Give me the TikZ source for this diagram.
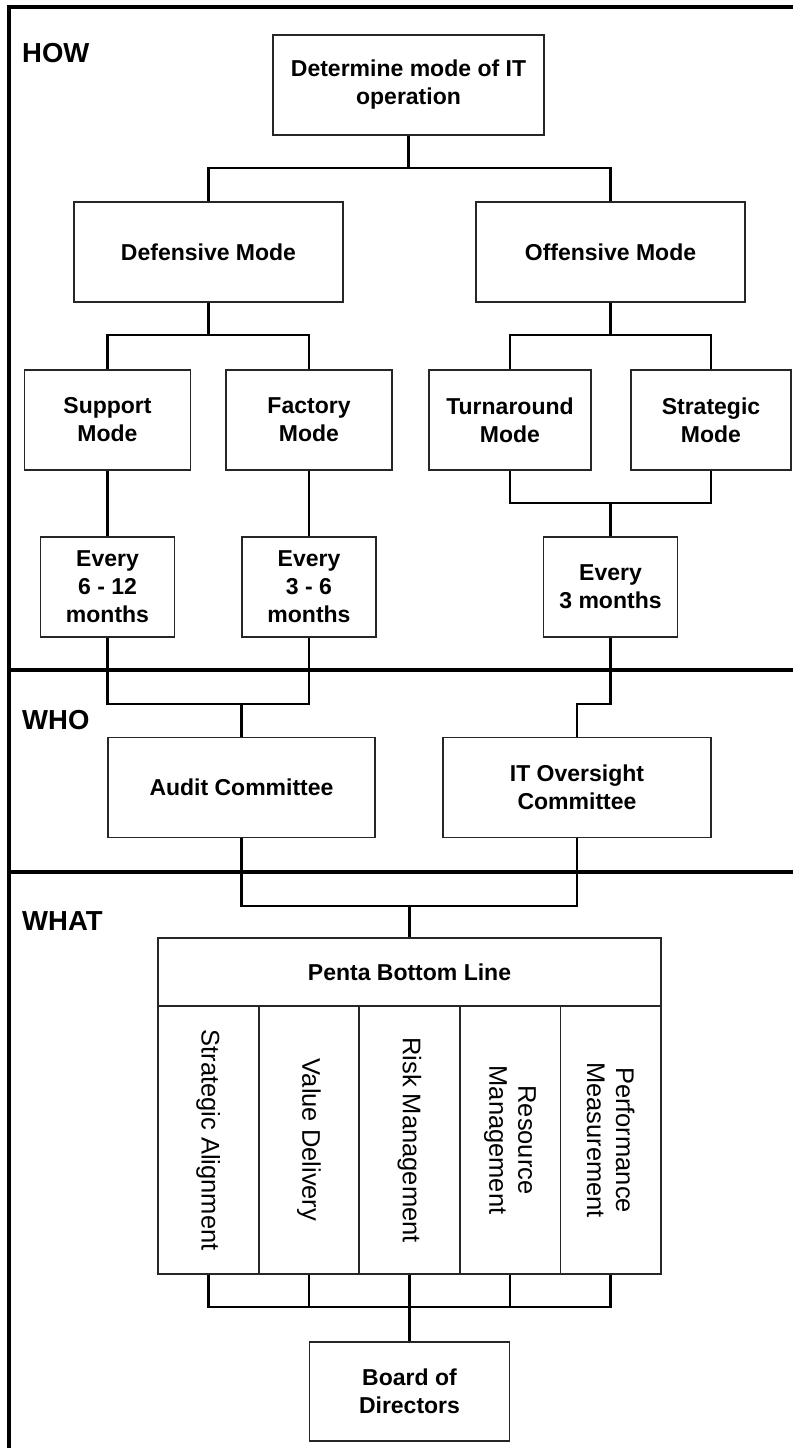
\documentclass[tikz,border=0pt]{standalone}
\usepackage{fontspec}
\setmainfont{Liberation Sans}

\begin{document}
\begin{tikzpicture}[x=1pt,y=-1pt,
    box/.style={draw=black!85,line width=1.8pt,minimum height=100pt,inner sep=2pt,align=center,font=\bfseries\fontsize{23}{28}\selectfont},
    colbox/.style={draw=black!85,line width=1.8pt,minimum width=268pt,minimum height=100.6pt,inner sep=2pt,align=center,rotate=-90,font=\fontsize{25.5}{29}\selectfont},
    link/.style={line width=2.6pt},
    band/.style={line width=3.5pt},
    tag/.style={anchor=base west,inner sep=0pt,font=\bfseries\fontsize{27.5}{30}\selectfont}]
\useasboundingbox (0,0) rectangle (793,1448);
\draw[line width=4pt] (9,1448) -- (9,7) -- (793,7);
\draw[band] (9,670) -- (793,670);
\draw[band] (9,872) -- (793,872);
\node[tag] (how) at (22,62) {HOW};
\node[tag] (who) at (22,729) {WHO};
\node[tag] (what) at (22,930) {WHAT};

\node[box,minimum width=271pt] (det) at (408.5,85) {Determine mode of IT\\operation};
\node[box,minimum width=269pt] (def) at (208.5,252) {Defensive Mode};
\node[box,minimum width=269pt] (off) at (610.5,252) {Offensive Mode};
\node[box,minimum width=166pt] (sup) at (107.5,420) {Support\\Mode};
\node[box,minimum width=166pt] (fac) at (309,420) {Factory\\Mode};
\node[box,minimum width=162pt] (tur) at (510,420) {Turnaround\\Mode};
\node[box,minimum width=160pt] (stg) at (711,420) {Strategic\\Mode};
\node[box,minimum width=134pt] (ev1) at (107.5,587) {Every\\6 - 12\\months};
\node[box,minimum width=134pt] (ev2) at (309,587) {Every\\3 - 6\\months};
\node[box,minimum width=134pt] (ev3) at (610.5,587) {Every\\3 months};
\node[box,minimum width=267pt] (aud) at (241.5,787.5) {Audit Committee};
\node[box,minimum width=268pt] (it) at (577,787.5) {IT Oversight\\Committee};
\node[box,minimum width=503pt,minimum height=68pt] (pbl) at (409.5,972) {Penta Bottom Line};
\node[colbox] (c1) at (208.3,1140) {Strategic Alignment};
\node[colbox] (c2) at (308.9,1140) {Value Delivery};
\node[colbox] (c3) at (409.5,1140) {Risk Management};
\node[colbox] (c4) at (510.1,1140) {Resource\\Management};
\node[colbox] (c5) at (610.7,1140) {Performance\\Measurement};
\node[box,minimum width=200pt,minimum height=99pt] (brd) at (409.5,1391.5) {Board of\\Directors};

\coordinate (t0) at (408.5,168);
\draw[link] (det.south) -- (t0);
\draw[link] (def.north) |- (t0) -| (off.north);
\coordinate (d0) at (208.5,335);
\draw[link] (def.south) -- (d0);
\draw[link] (sup.north) |- (d0) -| (fac.north);
\coordinate (o0) at (610.5,335);
\draw[link] (off.south) -- (o0);
\draw[link] (tur.north) |- (o0) -| (stg.north);
\draw[link] (sup.south) -- (ev1.north);
\draw[link] (fac.south) -- (ev2.north);
\coordinate (o1) at (610.5,503);
\draw[link] (tur.south) |- (o1) -| (stg.south);
\draw[link] (o1) -- (ev3.north);
\coordinate (w1) at (241.5,704);
\draw[link] (ev1.south) |- (w1) -| (ev2.south);
\draw[link] (w1) -- (aud.north);
\coordinate (w2) at (577,704);
\draw[link] (ev3.south) |- (w2) -- (it.north);
\coordinate (p0) at (409.5,906);
\draw[link] (aud.south) |- (p0) -| (it.south);
\draw[link] (p0) -- (pbl.north);
\coordinate (b0) at (409.5,1307);
\draw[link] (c1.east) |- (b0) -| (c5.east);
\draw[link] (c2.east) -- (c2.east |- b0);
\draw[link] (c4.east) -- (c4.east |- b0);
\draw[link] (c3.east) -- (brd.north);
\end{tikzpicture}
\end{document}
